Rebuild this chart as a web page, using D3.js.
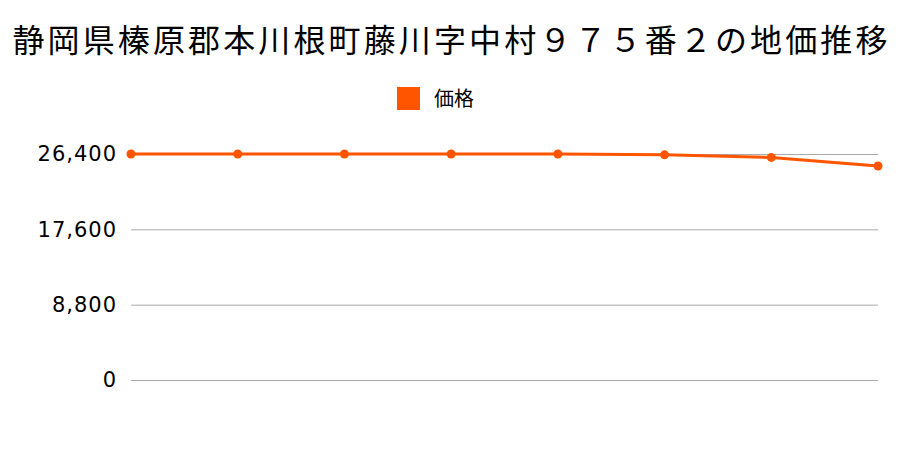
<!DOCTYPE html>
<html>
<head>
<meta charset="utf-8">
<script src="https://cdn.jsdelivr.net/npm/d3@7"></script>
<style>
  body { margin: 0; background: #fff; }
  text { font-family: "Noto Sans CJK JP", "Noto Sans", sans-serif; }
</style>
</head>
<body>
<svg id="chart"></svg>
<script>
// データ
const points = ['p1', 'p2', 'p3', 'p4', 'p5', 'p6', 'p7', 'p8'];
const prices = [26400, 26400, 26400, 26400, 26400, 26300, 26000, 25000];
const yTicks = [0, 8800, 17600, 26400];
const titleText = '静岡県榛原郡本川根町藤川字中村９７５番２の地価推移';
const seriesName = '価格';

const width = 900;
const height = 450;
const color = '#ff5500';

const svg = d3.select('#chart')
    .attr('width', width)
    .attr('height', height);

// タイトル
svg.append('text')
    .attr('x', width / 2)
    .attr('y', 52)
    .attr('text-anchor', 'middle')
    .style('font-size', '32px')
    .attr('textLength', 875)
    .text(titleText);

// 凡例
svg.append('rect')
    .attr('x', 397)
    .attr('y', 87)
    .attr('width', 23)
    .attr('height', 23)
    .attr('fill', color);
svg.append('text')
    .attr('x', 434)
    .attr('y', 106)
    .style('font-size', '20px')
    .text(seriesName);

const x = d3.scalePoint()
    .domain(points)
    .range([131, 878]);

const y = d3.scaleLinear()
    .domain([0, 26400])
    .range([380, 154]);

// グリッド線と目盛り
const yAxis = d3.axisLeft(y)
    .tickValues(yTicks)
    .tickSize(-(878 - 131))
    .tickPadding(14)
    .tickFormat(d3.format(','));

const axisG = svg.append('g')
    .attr('transform', 'translate(131,0)')
    .call(yAxis);
axisG.select('.domain').remove();
axisG.selectAll('.tick line')
    .attr('stroke', '#aaaaaa')
    .attr('stroke-width', 1);
axisG.selectAll('.tick text')
    .attr('fill', '#000')
    .style('font-size', '21px')
    .style('letter-spacing', '1px')
    .style('font-family', '"DejaVu Sans", sans-serif');

// 折れ線
const line = d3.line()
    .x((d, i) => x(points[i]))
    .y(d => y(d));

svg.append('path')
    .datum(prices)
    .attr('d', line)
    .attr('fill', 'none')
    .attr('stroke', color)
    .attr('stroke-width', 3);

svg.selectAll('circle')
    .data(prices)
    .enter()
    .append('circle')
    .attr('cx', (d, i) => x(points[i]))
    .attr('cy', d => y(d))
    .attr('r', 4.5)
    .attr('fill', color);
</script>
</body>
</html>
